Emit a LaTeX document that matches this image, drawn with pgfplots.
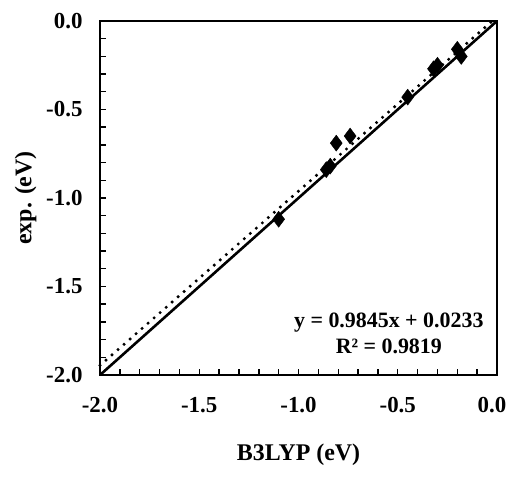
\documentclass[border=0pt]{standalone}
\usepackage{fontspec}
\setmainfont{Liberation Serif}
\usepackage{pgfplots}
\pgfplotsset{compat=1.18}
\begin{document}
\begin{tikzpicture}[x=1bp,y=1bp]
\useasboundingbox (0,0) rectangle (510,480);
\begin{axis}[
  at={(100bp,105bp)}, anchor=south west,
  scale only axis, width=397bp, height=354bp,
  xmin=-2, xmax=0, ymin=-2, ymax=0,
  xtick={-2,-1.5,-1,-0.5}, ytick={-2,-1.5,...,0},
  extra x ticks={0},
  extra x tick style={xticklabel style={xshift=-5bp}},
  minor xtick={-1.9,-1.8,-1.7,-1.6,-1.4,-1.3,-1.2,-1.1,-0.9,-0.8,-0.7,-0.6,-0.4,-0.3,-0.2,-0.1},
  minor ytick={-1.9,-1.8,-1.7,-1.6,-1.4,-1.3,-1.2,-1.1,-0.9,-0.8,-0.7,-0.6,-0.4,-0.3,-0.2,-0.1},
  tick align=inside,
  xtick pos=left, ytick pos=left,
  major tick length=6bp, minor tick length=6bp,
  every tick/.style={black, line width=1.4bp},
  axis line style={line width=2.2bp},
  /pgf/number format/.cd, fixed, fixed zerofill, precision=1, assume math mode=true,
  /pgfplots/.cd,
  ticklabel style={font=\fontsize{23}{27}\selectfont\bfseries},
  xticklabel style={yshift=-19bp},
  yticklabel style={xshift=-14bp},
  xlabel={B3LYP (eV)}, ylabel={exp. (eV)},
  label style={font=\fontsize{24}{28}\selectfont\bfseries},
  xlabel style={at={(axis description cs:0.5,0)}, yshift=-65bp, anchor=north},
  ylabel style={at={(axis description cs:0,0.5)}, yshift=60bp, anchor=south},
  clip=false,
]
\addplot[black, line width=2.6bp] coordinates {(-2,-2) (0,0)};
\addplot[black, line width=3.4bp, dash pattern=on 0bp off 8bp, line cap=round] coordinates {(-2,-1.9457) (-0.0237,0)};
\addplot[only marks, mark=diamond*, mark size=8bp, black] coordinates {
(-1.10,-1.12)
(-0.86,-0.84)
(-0.84,-0.82)
(-0.81,-0.69)
(-0.74,-0.65)
(-0.45,-0.43)
(-0.32,-0.27)
(-0.30,-0.25)
(-0.20,-0.16)
(-0.18,-0.20)
};
\node[align=center, font=\fontsize{22}{25.5}\selectfont\bfseries] at (axis cs:-0.545,-1.765) {y = 0.9845x + 0.0233\\R² = 0.9819};
\end{axis}
\end{tikzpicture}
\end{document}
